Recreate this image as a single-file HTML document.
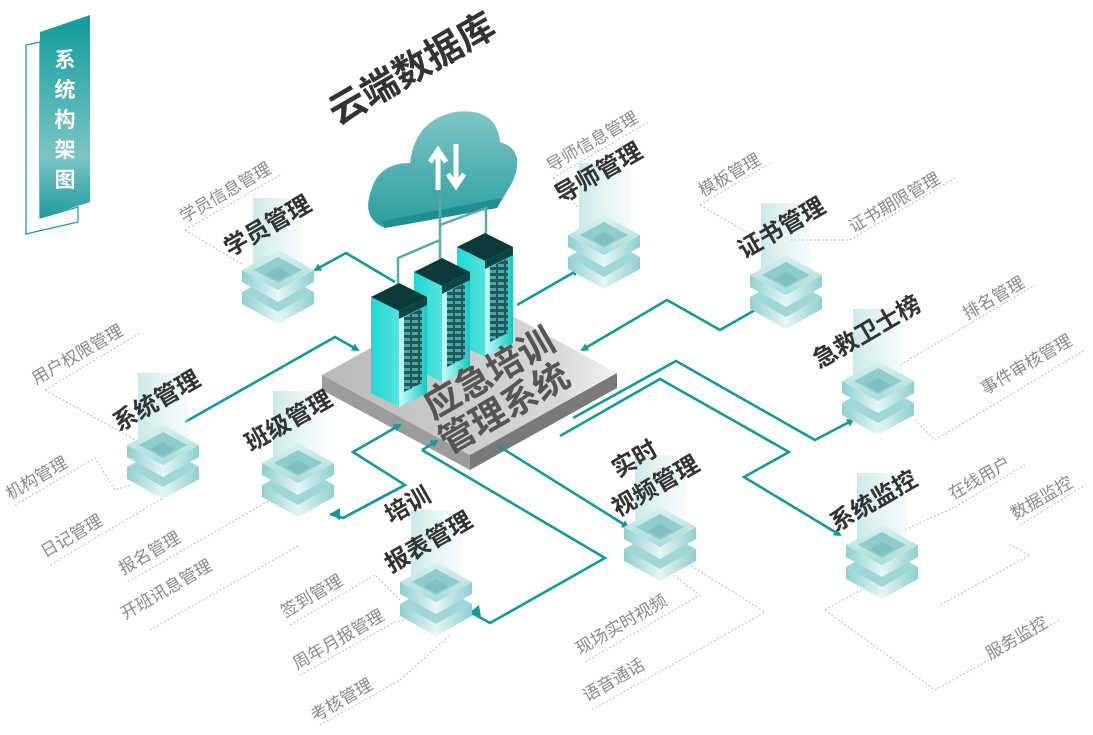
<!DOCTYPE html>
<html><head><meta charset="utf-8"><style>
body{margin:0;background:#fff}
svg{display:block;font-family:"Liberation Sans","Noto Sans CJK SC",sans-serif}
.g{font-size:17px;fill:#8a8a8a}
.t{font-size:24px;font-weight:bold;fill:#333}
.d{stroke:#bbb;stroke-width:1;stroke-dasharray:2 2;fill:none}
.c{stroke:#16989a;stroke-width:2.6;fill:none}
</style></head><body>
<svg width="1093" height="735" viewBox="0 0 1093 735">
<defs>
<linearGradient id="side" x1="0" x2="1"><stop offset="0" stop-color="#8fcfcf"/><stop offset=".5" stop-color="#e6f6f6"/><stop offset="1" stop-color="#8fcfcf"/></linearGradient>
<linearGradient id="top" x1="0" y1="0" x2="0" y2="1"><stop offset="0" stop-color="#d9f0f0"/><stop offset="1" stop-color="#a9dcdc"/></linearGradient>
<linearGradient id="glass" x1="0" x2="1"><stop offset="0" stop-color="#bfe3e3" stop-opacity=".8"/><stop offset="1" stop-color="#e6f5f5" stop-opacity=".4"/></linearGradient>
<linearGradient id="bar" x1="0" y1="0" x2="0" y2="1"><stop offset="0" stop-color="#0f9b9b"/><stop offset=".7" stop-color="#7cc4c4"/><stop offset="1" stop-color="#1d9c9c"/></linearGradient>
<linearGradient id="cab" x1="0" x2="1"><stop offset="0" stop-color="#1de0dc"/><stop offset=".5" stop-color="#c8fffb"/><stop offset="1" stop-color="#14c7c2"/></linearGradient>
<linearGradient id="cloud" x1="0" y1="0" x2="0" y2="1"><stop offset="0" stop-color="#7ec6c6"/><stop offset="1" stop-color="#2a9d9d"/></linearGradient>
<linearGradient id="plat" x1="0" x2="1"><stop offset="0" stop-color="#b9b9b9"/><stop offset=".8" stop-color="#d8d8d8"/><stop offset="1" stop-color="#f4f4f4"/></linearGradient>
<pattern id="rack" width="8" height="6" patternUnits="userSpaceOnUse"><rect width="8" height="6" fill="#1b5a5a"/><rect x="1" y="1" width="6" height="3" fill="#4fa3a0"/></pattern>
<g id="node">
 <rect x="-25" y="-72" width="50" height="72" fill="url(#glass)"/>
 <path d="M-36 22 L0 42 L36 22 L36 34 L0 54 L-36 34Z" fill="url(#side)"/>
 <path d="M-36 22 L0 2 L36 22 L0 42Z" fill="#9fd6d6"/>
 <path d="M-36 0 L0 20 L36 0 L36 12 L0 32 L-36 12Z" fill="url(#side)"/>
 <path d="M-36 0 L0 -20 L36 0 L0 20Z" fill="url(#top)"/>
 <path d="M-24 0 L0 -13 L24 0 L0 13Z" fill="#8fcccc"/>
 <path d="M-12 4 L0 -3 L12 4 L0 11Z" fill="#7fbfbf"/>
</g>
<marker id="ar" markerWidth="8" markerHeight="8" refX="6" refY="4" orient="auto" markerUnits="userSpaceOnUse"><path d="M0 0 L8 4 L0 8Z" fill="#16989a"/></marker>
<g id="cabinet">
 <path d="M0 14 L28 0 L56 14 L56 110 L28 124 L0 110Z" fill="url(#cab)"/>
 <path d="M0 14 L28 0 L56 14 L28 28Z" fill="#0b3a3a"/>
 <path d="M0 14 L28 28 L28 124 L0 110Z" fill="#22d6d0" opacity=".7"/>
 <path d="M33 34 L51 25 L51 100 L33 109Z" fill="url(#rack)"/>
 <path d="M28 28 L56 14 L56 22 L28 36Z" fill="#0e4444"/>
</g>
</defs>

<path d="M26 45 L40 42 L40 218 L78 207 L78 222 L26 234Z" fill="none" stroke="#16989a" stroke-width="1.2"/>
<path d="M40 32 L90 15 L90 202 L40 218Z" fill="url(#bar)"/>
<g font-size="21" font-weight="bold" fill="#fff" text-anchor="middle">
<text x="65" y="67">系</text><text x="65" y="97">统</text><text x="65" y="127">构</text><text x="65" y="157">架</text><text x="65" y="187">图</text></g>

<text transform="translate(338,126) rotate(-30)" font-size="37" font-weight="bold" fill="#333">云端数据库</text>
<path d="M385 228 Q360 218 372 188 Q380 163 410 163 Q415 120 455 112 Q497 107 500 142 Q527 150 512 183 L497 208 Z" fill="url(#cloud)"/>
<path d="M385 228 L497 208 L502 198 L382 221Z" fill="#1f8f8f"/>
<path d="M438 190 V154 M430 162 L438 150 L446 162" stroke="#fff" stroke-width="5" fill="none"/>
<path d="M456 144 V182 M448 174 L456 186 L464 174" stroke="#fff" stroke-width="5" fill="none"/>
<path d="M398 290 V258 L440 240 M440 270 V195 M486 245 V208 L440 225" stroke="#5aabab" stroke-width="2.5" fill="none"/>

<path class="c" d="M395 282 L346 253 L315 270" marker-end="url(#ar)"/>
<path class="c" d="M185 422 L335 337 L358 350" marker-end="url(#ar)"/>
<path class="c" d="M517 305 L578 270" marker-end="url(#ar)"/>
<path class="c" d="M755 310 L720 330 L667 300 L582 350" marker-end="url(#ar)"/>
<path class="c" d="M573 418 L676 361 L815 440 L853 420" marker-end="url(#ar)"/>
<path class="c" d="M560 436 L660 379 L789 452 L744 477 L840 535" marker-end="url(#ar)"/>
<path class="c" d="M505 450 L625 525"/>

<path d="M322 375 L470 293 L617 373 L470 455Z" fill="url(#plat)"/>
<path d="M322 375 L470 455 L470 470 L322 390Z" fill="#9c9c9c"/>
<path d="M470 455 L617 373 L617 388 L470 470Z" fill="#7a7a7a"/>
<use href="#cabinet" x="457" y="233"/>
<use href="#cabinet" x="414" y="258"/>
<use href="#cabinet" x="371" y="283"/>
<text transform="translate(433,420) rotate(-30)" font-size="36" font-weight="bold" fill="#555">应急培训</text>
<text transform="translate(448,455) rotate(-30)" font-size="36" font-weight="bold" fill="#555">管理系统</text>

<path class="c" d="M343 518 L405 485 L353 452 L400 425" marker-end="url(#ar)"/>
<path class="c" d="M405 485 L343 518 L330 514"/>
<path class="c" d="M422 450 L605 558 L490 623 L470 612"/>
<path d="M470 612 L479 605 L481 617Z" fill="#16989a"/>
<path class="c" d="M422 450 L437 441" marker-end="url(#ar)"/>
<path class="c" d="M505 450 L497 446"/>
<path d="M330 514 L340 508 L340 520Z" fill="#16989a"/>
<path class="c" d="M612 517 L628 527" marker-end="url(#ar)"/>

<path class="d" d="M185 230 L280 175 M185 230 L243 265"/>
<path class="d" d="M553 178 L648 122 M553 178 L580 210"/>
<path class="d" d="M700 205 L770 163 M700 205 L760 240"/>
<path class="d" d="M790 240 L850 240 L955 178"/>
<path class="d" d="M900 365 L1035 285"/>
<path class="d" d="M915 420 L935 440 L1085 350"/>
<path class="d" d="M45 390 L140 333 M45 390 L135 440"/>
<path class="d" d="M15 505 L95 458 L115 490 L130 485"/>
<path class="d" d="M50 565 L163 498"/>
<path class="d" d="M128 582 L275 497"/>
<path class="d" d="M150 630 L300 545"/>
<path class="d" d="M290 625 L375 575 L400 600"/>
<path class="d" d="M300 675 L395 622 L405 620"/>
<path class="d" d="M320 725 L400 680 L450 635"/>
<path class="d" d="M585 662 L700 595 L660 565"/>
<path class="d" d="M592 710 L765 612 L690 565"/>
<path class="d" d="M955 507 L1025 465 M905 530 L955 507"/>
<path class="d" d="M1020 525 L1085 485 M940 605 L1030 555 L1010 545"/>
<path class="d" d="M825 610 L870 585 M825 610 L935 690 L1060 620"/>

<use href="#node" x="278" y="270"/>
<use href="#node" x="604" y="235"/>
<use href="#node" x="786" y="275"/>
<use href="#node" x="878" y="381"/>
<use href="#node" x="163" y="445"/>
<use href="#node" x="298" y="463"/>
<use href="#node" x="660" y="527"/>
<use href="#node" x="882" y="545"/>
<use href="#node" x="436" y="582"/>

<text class="t" transform="translate(230,257) rotate(-30)">学员管理</text>
<text class="t" transform="translate(561,204) rotate(-30)">导师管理</text>
<text class="t" transform="translate(744,259) rotate(-30)">证书管理</text>
<text class="t" transform="translate(819,369) rotate(-30)">急救卫士榜</text>
<text class="t" transform="translate(119,432) rotate(-30)">系统管理</text>
<text class="t" transform="translate(251,452) rotate(-30)">班级管理</text>
<text class="t" transform="translate(618,478) rotate(-30)">实时</text>
<text class="t" transform="translate(618,517) rotate(-30)">视频管理</text>
<text class="t" transform="translate(836,532) rotate(-30)">系统监控</text>
<text class="t" transform="translate(391,524) rotate(-30)">培训</text>
<text class="t" transform="translate(391,573) rotate(-30)">报表管理</text>

<g class="g">
<text transform="translate(184,223) rotate(-30)">学员信息管理</text>
<text transform="translate(551,172) rotate(-30)">导师信息管理</text>
<text transform="translate(703,197) rotate(-30)">模板管理</text>
<text transform="translate(853,233) rotate(-30)">证书期限管理</text>
<text transform="translate(967,320) rotate(-30)">排名管理</text>
<text transform="translate(985,395) rotate(-30)">事件审核管理</text>
<text transform="translate(36,385) rotate(-30)">用户权限管理</text>
<text transform="translate(10,500) rotate(-30)">机构管理</text>
<text transform="translate(45,558) rotate(-30)">日记管理</text>
<text transform="translate(123,575) rotate(-30)">报名管理</text>
<text transform="translate(125,620) rotate(-30)">开班讯息管理</text>
<text transform="translate(285,618) rotate(-30)">签到管理</text>
<text transform="translate(297,670) rotate(-30)">周年月报管理</text>
<text transform="translate(315,722) rotate(-30)">考核管理</text>
<text transform="translate(580,655) rotate(-30)">现场实时视频</text>
<text transform="translate(587,702) rotate(-30)">语音通话</text>
<text transform="translate(953,500) rotate(-30)">在线用户</text>
<text transform="translate(1015,520) rotate(-30)">数据监控</text>
<text transform="translate(990,660) rotate(-30)">服务监控</text>
</g>
</svg>
</body></html>
